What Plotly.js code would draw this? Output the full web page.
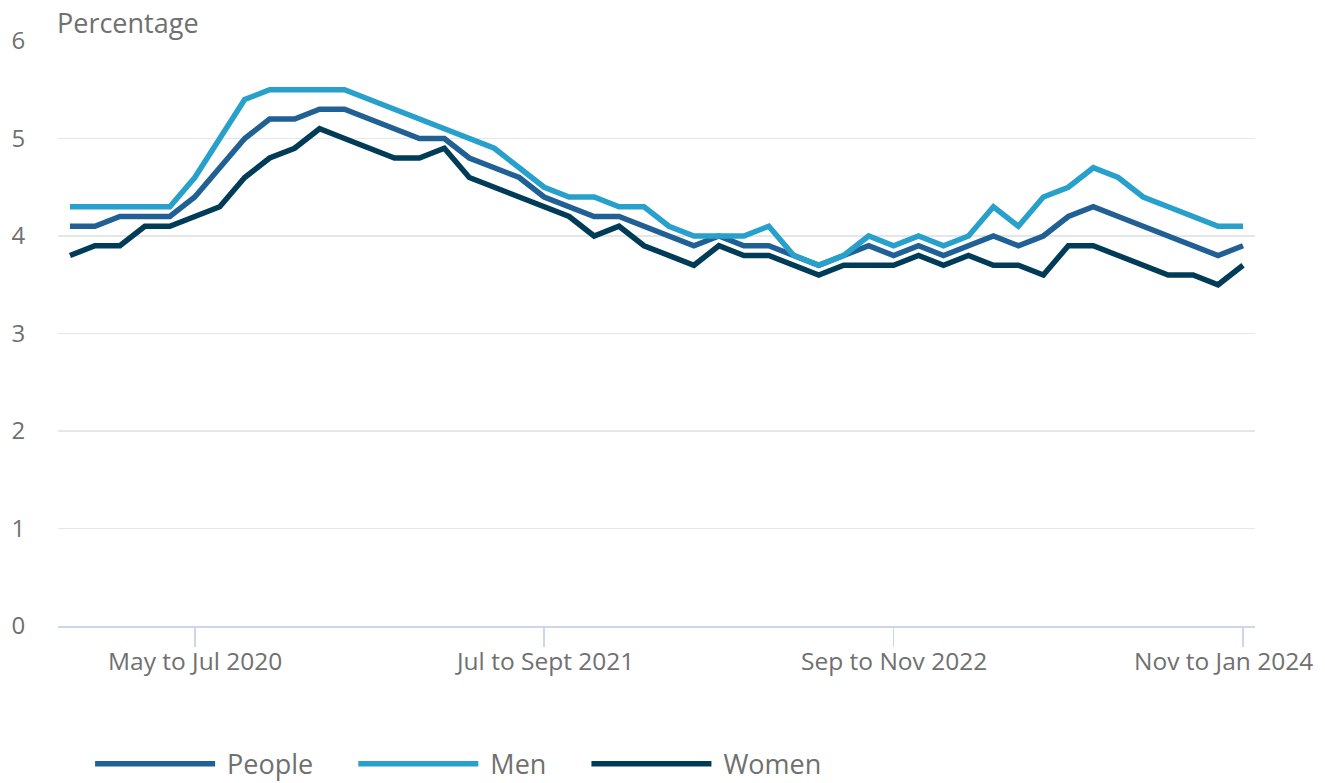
<!DOCTYPE html>
<html>
<head>
<meta charset="utf-8">
<script src="https://cdn.plot.ly/plotly-3.0.1.min.js"></script>
<style>
  html, body { margin: 0; padding: 0; background: #ffffff; }
  #chart { width: 1325px; height: 783px; }
</style>
</head>
<body>
<div id="chart"></div>
<script>
const periods = [
  "Dec to Feb 2020", "Jan to Mar 2020", "Feb to Apr 2020", "Mar to May 2020", "Apr to Jun 2020",
  "May to Jul 2020", "Jun to Aug 2020", "Jul to Sep 2020", "Aug to Oct 2020", "Sep to Nov 2020",
  "Oct to Dec 2020", "Nov to Jan 2021", "Dec to Feb 2021", "Jan to Mar 2021", "Feb to Apr 2021",
  "Mar to May 2021", "Apr to Jun 2021", "May to Jul 2021", "Jun to Aug 2021", "Jul to Sept 2021",
  "Aug to Oct 2021", "Sep to Nov 2021", "Oct to Dec 2021", "Nov to Jan 2022", "Dec to Feb 2022",
  "Jan to Mar 2022", "Feb to Apr 2022", "Mar to May 2022", "Apr to Jun 2022", "May to Jul 2022",
  "Jun to Aug 2022", "Jul to Sep 2022", "Aug to Oct 2022", "Sep to Nov 2022", "Oct to Dec 2022",
  "Nov to Jan 2023", "Dec to Feb 2023", "Jan to Mar 2023", "Feb to Apr 2023", "Mar to May 2023",
  "Apr to Jun 2023", "May to Jul 2023", "Jun to Aug 2023", "Jul to Sep 2023", "Aug to Oct 2023",
  "Sep to Nov 2023", "Oct to Dec 2023", "Nov to Jan 2024"
];

const people = [4.1, 4.1, 4.2, 4.2, 4.2, 4.4, 4.7, 5.0, 5.2, 5.2,
                5.3, 5.3, 5.2, 5.1, 5.0, 5.0, 4.8, 4.7, 4.6, 4.4,
                4.3, 4.2, 4.2, 4.1, 4.0, 3.9, 4.0, 3.9, 3.9, 3.8,
                3.7, 3.8, 3.9, 3.8, 3.9, 3.8, 3.9, 4.0, 3.9, 4.0,
                4.2, 4.3, 4.2, 4.1, 4.0, 3.9, 3.8, 3.9];

const men = [4.3, 4.3, 4.3, 4.3, 4.3, 4.6, 5.0, 5.4, 5.5, 5.5,
             5.5, 5.5, 5.4, 5.3, 5.2, 5.1, 5.0, 4.9, 4.7, 4.5,
             4.4, 4.4, 4.3, 4.3, 4.1, 4.0, 4.0, 4.0, 4.1, 3.8,
             3.7, 3.8, 4.0, 3.9, 4.0, 3.9, 4.0, 4.3, 4.1, 4.4,
             4.5, 4.7, 4.6, 4.4, 4.3, 4.2, 4.1, 4.1];

const women = [3.8, 3.9, 3.9, 4.1, 4.1, 4.2, 4.3, 4.6, 4.8, 4.9,
               5.1, 5.0, 4.9, 4.8, 4.8, 4.9, 4.6, 4.5, 4.4, 4.3,
               4.2, 4.0, 4.1, 3.9, 3.8, 3.7, 3.9, 3.8, 3.8, 3.7,
               3.6, 3.7, 3.7, 3.7, 3.8, 3.7, 3.8, 3.7, 3.7, 3.6,
               3.9, 3.9, 3.8, 3.7, 3.6, 3.6, 3.5, 3.7];

const tickPeriods = ["May to Jul 2020", "Jul to Sept 2021", "Sep to Nov 2022", "Nov to Jan 2024"];
const yTicks = [0, 1, 2, 3, 4, 5, 6];
const yAxisLabel = "Percentage";

const seriesNames = ["People", "Men", "Women"];
const seriesColors = ["#206095", "#27a0cc", "#003c57"];
const seriesData = [people, men, women];

const FONT = "'Open Sans', 'Noto Sans', sans-serif";
const GREY = "#707070";
const NB = "\u00a0";

const traces = seriesData.map((vals, i) => ({
  type: "scatter",
  mode: "lines",
  name: NB + seriesNames[i] + NB.repeat(5),
  x: periods,
  y: vals,
  line: { color: seriesColors[i], width: 5.5, shape: "linear" },
  hoverinfo: "x+y"
}));

// x tick labels drawn at their category positions; the last one is nudged
// left so it stays inside the frame, as in the reference
const tickAnnotations = tickPeriods.map((t, i) => ({
  text: t,
  xref: "x",
  yref: "paper",
  x: t,
  y: 0,
  xanchor: "center",
  yanchor: "middle",
  xshift: i === tickPeriods.length - 1 ? -20 : 0,
  yshift: -34,
  showarrow: false,
  font: { family: FONT, size: 24.5, color: GREY }
}));

const layout = {
  width: 1325,
  height: 783,
  paper_bgcolor: "#ffffff",
  plot_bgcolor: "#ffffff",
  margin: { l: 58, r: 70, t: 41, b: 157, pad: 0 },
  font: { family: FONT, color: GREY, size: 24 },
  showlegend: true,
  legend: {
    orientation: "h",
    xref: "container",
    yref: "container",
    x: 0.068,
    xanchor: "left",
    y: 0.024,
    yanchor: "middle",
    font: { family: FONT, size: 27, color: GREY },
    itemwidth: 120,
    traceorder: "normal",
    bgcolor: "rgba(0,0,0,0)"
  },
  xaxis: {
    type: "category",
    range: [-0.48, periods.length - 1 + 0.48],
    tickmode: "array",
    tickvals: tickPeriods,
    ticktext: tickPeriods,
    showticklabels: false,
    ticks: "outside",
    ticklen: 19,
    tickwidth: 1.5,
    tickcolor: "#ccd6eb",
    showline: true,
    linecolor: "#ccd6eb",
    linewidth: 2,
    showgrid: false,
    zeroline: false,
    fixedrange: true
  },
  yaxis: {
    range: [0, 6],
    tickmode: "array",
    tickvals: yTicks,
    ticktext: yTicks.map(String),
    ticks: "outside",
    ticklen: 27,
    tickcolor: "rgba(0,0,0,0)",
    showgrid: true,
    gridcolor: "#e6e6e6",
    gridwidth: 1.5,
    zeroline: false,
    showline: false,
    tickfont: { family: FONT, size: 24, color: GREY },
    fixedrange: true
  },
  annotations: [{
    text: yAxisLabel,
    xref: "paper",
    yref: "paper",
    x: 0,
    y: 1,
    xanchor: "left",
    yanchor: "bottom",
    xshift: -3,
    yshift: -2,
    showarrow: false,
    font: { family: FONT, size: 27, color: GREY }
  }].concat(tickAnnotations)
};

Plotly.newPlot("chart", traces, layout, { displayModeBar: false, staticPlot: true });
</script>
</body>
</html>
